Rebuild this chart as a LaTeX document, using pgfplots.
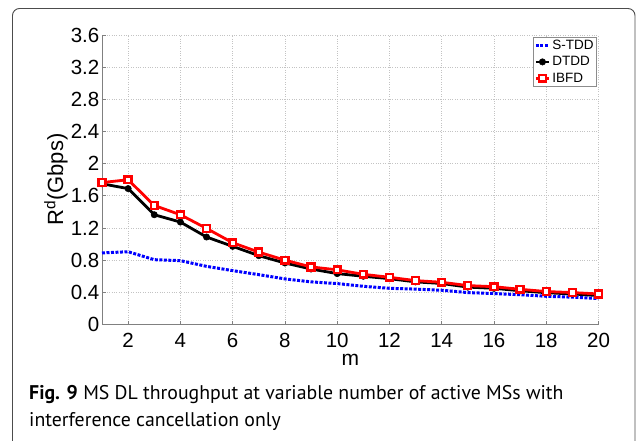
\documentclass[border=0pt]{standalone}
\usepackage{fontspec}
\setmainfont{Liberation Sans}
\newfontfamily\capfont{PT Sans}
\usepackage{pgfplots}
\pgfplotsset{compat=1.18}

\definecolor{mblue}{RGB}{0,0,255}
\definecolor{mred}{RGB}{255,0,0}
\definecolor{gridgray}{RGB}{195,195,195}
\definecolor{axgray}{RGB}{128,128,128}

\begin{document}
\begin{tikzpicture}[x=1pt,y=1pt]
\useasboundingbox (0,0) rectangle (637,440);
% outer frame of the figure
\begin{scope}
\clip (0,0) rectangle (637,440);
\draw[black!70, line width=0.9pt, rounded corners=7pt] (12.5,-40) rectangle (635,431.5);
\end{scope}

\begin{axis}[
  at={(102pt,115.5pt)}, anchor=south west,
  scale only axis, width=496.5pt, height=289.5pt,
  xmin=1, xmax=20, ymin=0, ymax=3.6,
  xtick={2,4,...,20},
  ytick={0,0.4,...,3.61},
  yticklabels={0,0.4,0.8,1.2,1.6,2,2.4,2.8,3.2,3.6},
  axis x line*=bottom, axis y line*=left,
  axis line style={draw=axgray, line width=0.8pt},
  tick style={draw=axgray, line width=0.8pt},
  tick align=inside, major tick length=4pt,
  grid=major,
  major grid style={draw=gridgray, dotted, line width=0.7pt},
  /pgf/number format/assume math mode=true,
  every tick label/.append style={font=\fontsize{20.5}{20.5}\selectfont},
  yticklabel style={inner sep=0pt, xshift=-2.5pt},
  xticklabel style={inner sep=0pt, yshift=-8.5pt},
  xlabel={m},
  xlabel style={font=\fontsize{21}{21}\selectfont, at={(axis description cs:0.5,0)}, anchor=base, yshift=-40.5pt},
  ylabel={R\textsuperscript{d}(Gbps)},
  ylabel style={font=\fontsize{22}{22}\selectfont, at={(axis description cs:-0.0785,0.5)}, anchor=base, rotate=0},
  legend style={at={(1,1)}, anchor=north east, xshift=-1.5pt, yshift=-1.8pt,
    draw=black!45, line width=0.6pt, fill=white,
    font=\fontsize{13.5}{13.5}\selectfont, inner sep=1pt, row sep=1.5pt,
    cells={anchor=west}},
  legend image code/.code={%
    \draw[mark repeat=2, mark phase=2, #1] plot coordinates {(0pt,0pt) (6.5pt,0pt) (13pt,0pt)};},
  clip=false,
]
% S-TDD
\addplot[mblue, line width=3pt, dash pattern=on 3pt off 1.5pt] coordinates {
(1,0.890) (2,0.905) (3,0.806) (4,0.794) (5,0.723) (6,0.670) (7,0.620) (8,0.567) (9,0.530) (10,0.509)
(11,0.475) (12,0.450) (13,0.440) (14,0.426) (15,0.397) (16,0.385) (17,0.370) (18,0.351) (19,0.340) (20,0.322)};
\addlegendentry{S-TDD}
% DTDD
\addplot[black, line width=2.8pt, mark=*, mark size=3.2pt, mark options={solid, fill=black, line width=0.5pt}] coordinates {
(1,1.750) (2,1.690) (3,1.365) (4,1.274) (5,1.088) (6,0.972) (7,0.856) (8,0.765) (9,0.690) (10,0.633)
(11,0.600) (12,0.570) (13,0.530) (14,0.510) (15,0.465) (16,0.450) (17,0.420) (18,0.395) (19,0.380) (20,0.360)};
\addlegendentry{DTDD}
% IBFD
\addplot[mred, line width=2.8pt, mark=square*, mark size=3.4pt, mark options={solid, fill=white, draw=mred, line width=2.5pt}] coordinates {
(1,1.765) (2,1.800) (3,1.480) (4,1.365) (5,1.195) (6,1.017) (7,0.900) (8,0.800) (9,0.716) (10,0.680)
(11,0.624) (12,0.587) (13,0.546) (14,0.525) (15,0.484) (16,0.470) (17,0.438) (18,0.410) (19,0.397) (20,0.380)};
\addlegendentry{IBFD}
\end{axis}

% caption
\node[anchor=base west, inner sep=0pt, font=\capfont\fontsize{19.8}{19.8}\selectfont] at (29,41)
  {\textbf{Fig. 9} MS DL throughput at variable number of active MSs with};
\node[anchor=base west, inner sep=0pt, font=\capfont\fontsize{19.8}{19.8}\selectfont] at (29,14)
  {interference cancellation only};
\end{tikzpicture}
\end{document}
